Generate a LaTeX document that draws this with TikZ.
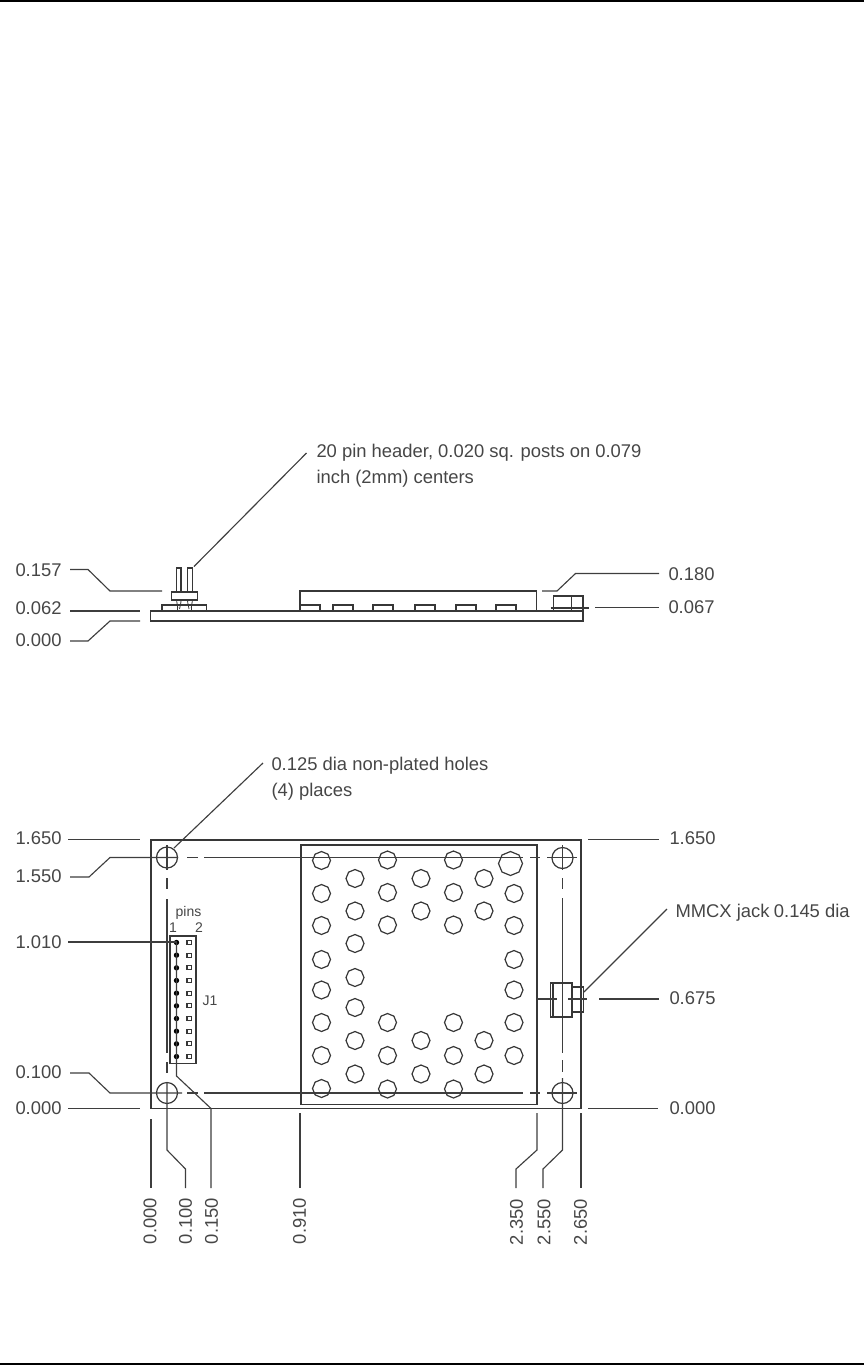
\documentclass[tikz,border=0pt]{standalone}
\usepackage{fontspec}
\setmainfont{Liberation Sans}
\tikzset{every picture/.style={line width=0.75pt}}
\tikzset{
  dimline/.style={color={rgb, 255:red, 62; green, 62; blue, 62 }, line width=0.85pt},
  part/.style={color={rgb, 255:red, 55; green, 55; blue, 55 }, line width=0.9pt},
  pinmark/.style={fill={rgb, 255:red, 0; green, 0; blue, 0 }, draw=none},
  dimtext/.style={color={rgb, 255:red, 70; green, 70; blue, 70 }, inner sep=0pt, anchor=west, font=\fontsize{13.8}{16}\selectfont},
  dimturned/.style={dimtext, anchor=center, rotate=90},
  smalltext/.style={dimtext, anchor=center, font=\fontsize{10.5}{12}\selectfont}
}

\begin{document}
\begin{tikzpicture}[x=0.75pt,y=0.75pt,yscale=-1,xscale=1]
\useasboundingbox (0,0) rectangle (864,1366);

%Page rules
\draw [line width=1.2pt] (0,1) -- (864,1) ;
\draw [line width=1.2pt] (0,1364) -- (864,1364) ;

%Side view: board and parts
\draw [part] (150.5,611) rectangle (583,621) ;
\draw [part] (162,611) -- (162,605) -- (206.5,605) -- (206.5,611) ;
\draw [part] (171.5,592) rectangle (197.5,600) ;
\draw [part] (176.5,592) -- (176.5,568) -- (181,568) -- (181,592) ;
\draw [part] (187.5,592) -- (187.5,568) -- (192.5,568) -- (192.5,592) ;
\draw [part, line width=0.6pt] (176.5,600) .. controls (177,604) and (178,606) .. (177.5,610) ;
\draw [part, line width=0.6pt] (181,600) .. controls (181,604) and (180,606) .. (179.5,609) ;
\draw [part, line width=0.6pt] (187.5,600) .. controls (187.5,604) and (189,606) .. (189,609) ;
\draw [part, line width=0.6pt] (192.5,600) .. controls (192,604) and (191,606) .. (191.5,610) ;
\draw [part] (300,611) -- (300,591) -- (536.5,591) -- (536.5,611) ;
\foreach \padx in {300,333,373,415,456,496} {
  \draw [part] (\padx,611) -- (\padx,605) -- (\padx+20,605) -- (\padx+20,611) ;
}
\draw [part] (553.5,611) -- (553.5,596) -- (583,596) -- (583,611) ;
\draw [part] (571.5,596) -- (571.5,611) ;
\draw [part] (550.5,608) -- (589,608) ;

%Side view: leaders and labels
\node [dimtext] (sideA) at (15,570) {0.157};
\node [dimtext] (sideB) at (15,608) {0.062};
\node [dimtext] (sideC) at (15,640) {0.000};
\node [dimtext] (sideD) at (668,574) {0.180};
\node [dimtext] (sideE) at (668,607.5) {0.067};
\node [dimtext] (sideF) at (316,453) {20 pin header, 0.020 sq. posts on 0.079};
\node [dimtext] (sideG) at (316,479) {inch (2mm) centers};
\draw [dimline] (70,569.5) -- (88,569.5) -- (110,591) -- (162,591) ;
\draw [dimline] (70,611) -- (140,611) ;
\draw [dimline] (70,641) -- (88,641) -- (110,621) -- (140,621) ;
\draw [dimline] (542,591) -- (557,591) -- (575.5,573.5) -- (659,573.5) ;
\draw [dimline] (595,607.5) -- (659,607.5) ;
\draw [dimline] (194,566.5) -- (306.5,453) ;

%Top view: board
\draw [part] (151,840) rectangle (581,1108.5) ;
\draw [part] (301,845) rectangle (537,1104.5) ;

%Mounting holes
\foreach \holex/\holey in {167/857.5,562.5/858,167/1093,562.5/1093} {
  \draw [part] (\holex,\holey) circle [radius=10.5] ;
}

%Centre lines
\draw [dimline] (70,877) -- (89,877) -- (110,857.5) -- (178,857.5) ;
\draw [dimline] (187,857.5) -- (198,857.5) (204,857.5) -- (523,857.5) (530,857.5) -- (540,857.5) (547,857.5) -- (577,857.5) ;
\draw [dimline] (70,1073) -- (89,1073) -- (110,1093) -- (182,1093) ;
\draw [dimline] (187,1093) -- (198,1093) (204,1093) -- (523,1093) (530,1093) -- (540,1093) (547,1093) -- (577,1093) ;
\draw [dimline] (167,845) -- (167,870) (167,878) -- (167,889) (167,899) -- (167,1053) (167,1062) -- (167,1073) ;
\draw [dimline] (167,1082) -- (167,1150) -- (185.5,1169) -- (185.5,1188) ;
\draw [dimline] (562.5,845) -- (562.5,870) (562.5,878) -- (562.5,889) (562.5,898) -- (562.5,1053) (562.5,1060) -- (562.5,1072) ;
\draw [dimline] (562.5,1078) -- (562.5,1150) -- (543,1169) -- (543,1188) ;

%Pads
\foreach \padx/\pady in {321.5/860.5,321.5/893.5,321.5/925.5,321.5/959.5,321.5/990,321.5/1022.5,321.5/1055.5,321.5/1088.5,
  355/878.5,355/911,355/943.5,355/977.5,355/1007.5,355/1040.5,355/1074,
  387.5/860,387.5/892.5,387.5/925,387.5/1022.5,387.5/1055.5,387.5/1089,
  421/878.5,421/911,421/1040.5,421/1074,
  453.5/860,453.5/892.5,453.5/925,453.5/1022.5,453.5/1055.5,453.5/1089,
  484/878.5,484/911,484/1040.5,484/1074,
  514/893.5,514/925.5,514/959.5,514/990,514/1022.5,514/1055.5} {
  \draw [part, shift={(\padx,\pady)}] (0:9) -- (45:9) -- (90:9) -- (135:9) -- (180:9) -- (225:9) -- (270:9) -- (315:9) -- cycle ;
}
\draw [part, shift={(510.5,863.5)}] (0:12) -- (45:12) -- (90:12) -- (135:12) -- (180:12) -- (225:12) -- (270:12) -- (315:12) -- cycle ;

%Header J1
\draw [part] (170,936) rectangle (196,1063.5) ;
\foreach \pinn in {0,...,9} {
  \fill [pinmark] (176.5,942.5+12.67*\pinn) circle [radius=2.7] ;
  \draw [part, line width=0.8pt] (187,940.5+12.67*\pinn) rectangle (191.5,944.5+12.67*\pinn) ;
}
\node [smalltext] (pinsText) at (188.5,913) {pins};
\node [smalltext] (pinOne) at (173,928) {1};
\node [smalltext] (pinTwo) at (199,928) {2};
\node [smalltext] (jOne) at (210,1001) {J1};

%MMCX jack
\draw [part, line width=1.1pt] (550.5,983) rectangle (572,1017) ;
\draw [part, line width=1.1pt] (572,987) rectangle (583.5,1012) ;
\draw [part] (553,983) -- (553,1017) ;
\draw [dimline] (537,999) -- (557,999) (568,999) -- (587,999) ;

%Top view: leaders and labels
\node [dimtext] (topA) at (15,838.5) {1.650};
\node [dimtext] (topB) at (15,876.5) {1.550};
\node [dimtext] (topC) at (15,942.5) {1.010};
\node [dimtext] (topD) at (15,1072.5) {0.100};
\node [dimtext] (topE) at (15,1108.5) {0.000};
\node [dimtext] (topF) at (669,838.5) {1.650};
\node [dimtext] (topG) at (669,998.5) {0.675};
\node [dimtext] (topH) at (669,1108.5) {0.000};
\node [dimtext] (topI) at (271,766) {0.125 dia non-plated holes};
\node [dimtext] (topJ) at (271,792) {(4) places};
\node [dimtext] (topK) at (675,913) {MMCX jack\hspace{3.3pt}0.145 dia};
\draw [dimline] (68,839.5) -- (140,839.5) ;
\draw [dimline] (68,942) -- (176.5,942) ;
\draw [dimline] (68,1108.5) -- (140,1108.5) ;
\draw [dimline] (588,839.5) -- (659,839.5) ;
\draw [dimline] (599,999) -- (659,999) ;
\draw [dimline] (588,1108.5) -- (658,1108.5) ;
\draw [dimline] (174,848) -- (263,763) ;
\draw [dimline] (584,992) -- (667,909) ;
\draw [dimline] (176.5,942) -- (176.5,1076) -- (211,1108.5) -- (211,1188) ;
\draw [dimline] (151,1119) -- (151,1188) ;
\draw [dimline] (300,1113) -- (300,1188) ;
\draw [dimline] (537,1113) -- (537,1150) -- (516,1169) -- (516,1188) ;
\draw [dimline] (581,1113) -- (581,1188) ;

%Bottom labels
\node [dimturned] (lowA) at (150,1221) {0.000};
\node [dimturned] (lowB) at (185.5,1221) {0.100};
\node [dimturned] (lowC) at (211.5,1221) {0.150};
\node [dimturned] (lowD) at (299.5,1221) {0.910};
\node [dimturned] (lowE) at (516.5,1222) {2.350};
\node [dimturned] (lowF) at (544,1222) {2.550};
\node [dimturned] (lowG) at (580.5,1222) {2.650};

\end{tikzpicture}
\end{document}
